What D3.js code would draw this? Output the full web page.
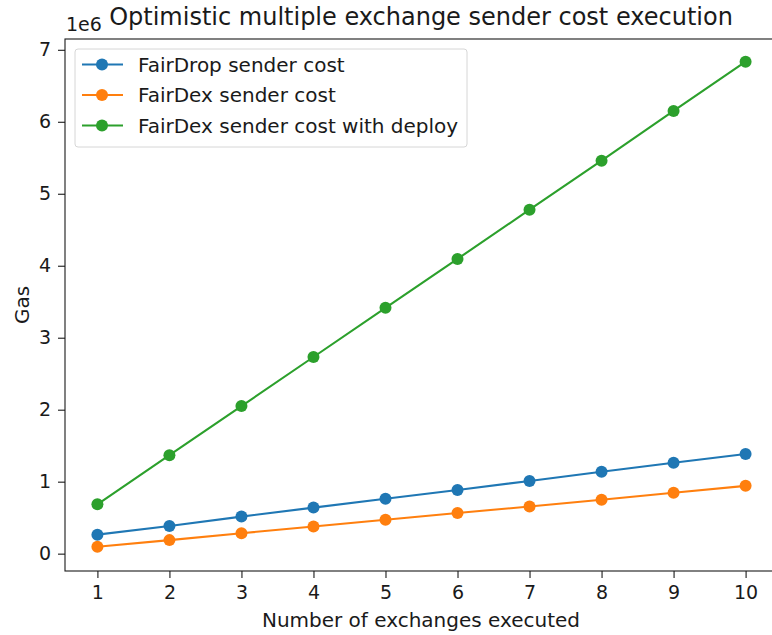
<!DOCTYPE html>
<html>
<head>
<meta charset="utf-8">
<script src="https://cdn.jsdelivr.net/npm/d3@7"></script>
<style>
  body { margin: 0; background: #fff; }
  svg { display: block; font-family: "DejaVu Sans", sans-serif; }
</style>
</head>
<body>
<svg id="chart" width="772" height="635"></svg>
<script>
// exchanges executed
const exchanges = [1, 2, 3, 4, 5, 6, 7, 8, 9, 10];
// gas values
const fairDropSender = [264000, 385000, 515000, 640000, 762000, 885000, 1010000, 1138000, 1262000, 1385000];
const fairDexSender = [97000, 188000, 284000, 378000, 470000, 565000, 655000, 748000, 846000, 942000];
const fairDexDeploy = [686000, 1368000, 2050000, 2732000, 3415000, 4095000, 4778000, 5460000, 6150000, 6835000];
const seriesNames = ["FairDrop sender cost", "FairDex sender cost", "FairDex sender cost with deploy"];
const seriesColors = ["#1f77b4", "#ff7f0e", "#2ca02c"];
const yTicks = [0, 1e6, 2e6, 3e6, 4e6, 5e6, 6e6, 7e6];

const series = [fairDropSender, fairDexSender, fairDexDeploy].map((vals, i) => ({
  name: seriesNames[i],
  color: seriesColors[i],
  points: exchanges.map((x, j) => ({ x, y: vals[j] }))
}));

const margin = { left: 65, top: 39, right: 778, bottom: 571 };
const ink = "#1a1a1a";
const svg = d3.select("#chart");

const x = d3.scaleLinear().domain([0.55, 10.45]).range([margin.left, margin.right]);
const y = d3.scaleLinear().domain([-0.241e6, 7.15e6]).range([margin.bottom, margin.top]);

// axes
const xAxis = svg.append("g")
  .attr("transform", `translate(0,${margin.bottom})`)
  .call(d3.axisBottom(x).tickValues(exchanges).tickSize(7).tickPadding(8).tickFormat(d3.format("d")));
const yAxis = svg.append("g")
  .attr("transform", `translate(${margin.left},0)`)
  .call(d3.axisLeft(y).tickValues(yTicks).tickSize(7).tickPadding(7).tickFormat(d => d / 1e6));

[xAxis, yAxis].forEach(g => {
  g.selectAll("text").attr("font-size", "19px").attr("fill", ink).attr("font-family", "DejaVu Sans, sans-serif");
  g.selectAll("line").attr("stroke", ink).attr("stroke-width", 1.1);
  g.select(".domain").remove();
});

// frame
svg.append("rect")
  .attr("x", margin.left).attr("y", margin.top)
  .attr("width", margin.right - margin.left).attr("height", margin.bottom - margin.top)
  .attr("fill", "none").attr("stroke", ink).attr("stroke-width", 1.1);

// lines + markers
const line = d3.line().x(d => x(d.x)).y(d => y(d.y));
series.forEach(s => {
  svg.append("path")
    .datum(s.points)
    .attr("d", line)
    .attr("fill", "none")
    .attr("stroke", s.color)
    .attr("stroke-width", 2.1);
  svg.append("g")
    .selectAll("circle")
    .data(s.points)
    .join("circle")
    .attr("cx", d => x(d.x))
    .attr("cy", d => y(d.y))
    .attr("r", 6)
    .attr("fill", s.color);
});

// title & labels
svg.append("text")
  .attr("x", 421).attr("y", 25)
  .attr("text-anchor", "middle")
  .attr("font-size", "24px")
  .attr("fill", ink)
  .text("Optimistic multiple exchange sender cost execution");

svg.append("text")
  .attr("x", 66).attr("y", 31)
  .attr("font-size", "19px")
  .attr("fill", ink)
  .text("1e6");

svg.append("text")
  .attr("x", 421).attr("y", 627)
  .attr("text-anchor", "middle")
  .attr("font-size", "20px")
  .attr("fill", ink)
  .text("Number of exchanges executed");

svg.append("text")
  .attr("transform", `translate(29,${(margin.top + margin.bottom) / 2}) rotate(-90)`)
  .attr("text-anchor", "middle")
  .attr("font-size", "20px")
  .attr("fill", ink)
  .text("Gas");

// legend
const legend = svg.append("g").attr("transform", "translate(75,49)");
legend.append("rect")
  .attr("width", 392).attr("height", 98)
  .attr("rx", 3)
  .attr("fill", "#fff").attr("fill-opacity", 0.8)
  .attr("stroke", "#d6d6d6");
series.forEach((s, i) => {
  const ly = 15.5 + i * 30.5;
  legend.append("line")
    .attr("x1", 7).attr("x2", 48).attr("y1", ly).attr("y2", ly)
    .attr("stroke", s.color).attr("stroke-width", 2.1);
  legend.append("circle")
    .attr("cx", 27).attr("cy", ly).attr("r", 6).attr("fill", s.color);
  legend.append("text")
    .attr("x", 63).attr("y", ly + 7)
    .attr("font-size", "20px")
    .attr("fill", ink)
    .text(s.name);
});
</script>
</body>
</html>
